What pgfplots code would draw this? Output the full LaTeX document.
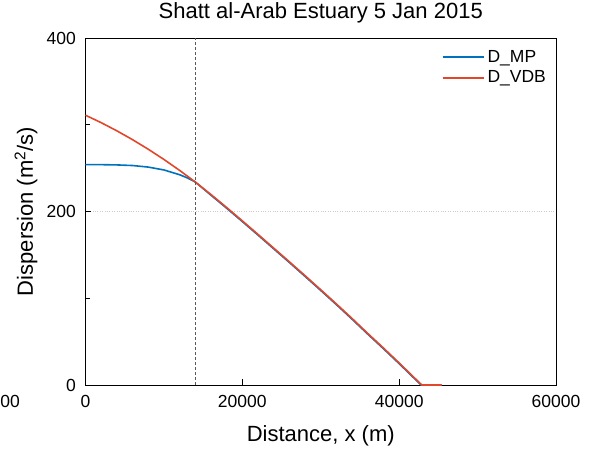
\documentclass[border=0pt]{standalone}
\usepackage{fontspec}
\setmainfont{Liberation Sans}
\usepackage{pgfplots}
\pgfplotsset{compat=1.18}
\definecolor{mpblue}{HTML}{0072BD}
\definecolor{vdbred}{HTML}{E2472B}
\newcommand\lblsize{\fontsize{22}{26}\selectfont}
\newcommand\ticksize{\fontsize{17.5}{21}\selectfont}
\begin{document}
\begin{tikzpicture}
\useasboundingbox (-85.5pt,-66pt) rectangle (504.5pt,385pt);
\begin{axis}[
  at={(0pt,0pt)}, anchor=south west,
  scale only axis, width=470.5pt, height=347pt,
  xmin=0, xmax=60000, ymin=0, ymax=400,
  xtick={0,20000,40000,60000}, xticklabels={0,20000,40000,60000},
  ytick={0,200,400}, yticklabels={0,200,400},
  minor ytick={100,300},
  scaled x ticks=false, scaled y ticks=false,
  tick align=inside, xtick pos=bottom, ytick pos=left,
  major tick length=6pt, minor tick length=5pt,
  tick style={black, line width=0.8pt},
  axis line style={black, line width=0.9pt},
  ymajorgrids, grid style={dotted, black!20, line width=0.8pt},
  tick label style={font=\ticksize},
  xticklabel style={inner sep=0pt, anchor=north, yshift=-10pt},
  yticklabel style={inner sep=0pt, anchor=east, xshift=-9.5pt},
  xlabel={Distance, x (m)},
  ylabel={Dispersion (m\textsuperscript{2}/s)},
  title={Shatt al-Arab Estuary 5 Jan 2015},
  label style={font=\lblsize},
  title style={font=\lblsize, at={(axis description cs:0.5,1.0403)}, anchor=base, inner sep=0pt},
  xlabel style={at={(axis description cs:0.5,-0.1634)}, anchor=base, inner sep=0pt},
  ylabel style={at={(axis description cs:-0.1116,0.5)}, anchor=base, inner sep=0pt},
  legend style={draw=none, fill=none, font=\ticksize, at={(axis description cs:0.757,0.9735)}, anchor=north west, row sep=1pt, inner sep=0pt, nodes={inner sep=3pt}},
  legend cell align=left,
]
\addplot[mpblue, line width=1.6pt, legend image code/.code={\draw[mpblue, line width=1.7pt] (0pt,0pt) -- (41pt,0pt);}] coordinates {
(0,254.0) (2000,254.0) (4000,253.7) (6000,253.0) (8000,251.2) (10000,247.9)
(12000,242.4) (13000,238.7) (14000,234.0) (16000,218.8) (18000,203.8)
(20000,188.4) (22000,172.8) (24000,157.0) (26000,141.2) (28000,125.2)
(30000,109.0) (32000,92.6) (34000,75.8) (36000,58.6) (38000,41.8)
(40000,24.6) (42000,7.0) (42800,0) (45400,0)};
\addlegendentry{D\_MP}
\addplot[vdbred, line width=1.6pt, legend image code/.code={\draw[vdbred, line width=1.6pt] (0pt,0pt) -- (41pt,0pt);}] coordinates {
(0,311.0) (2000,302.4) (4000,293.0) (6000,282.8) (8000,271.8) (10000,260.0)
(12000,247.4) (14000,234.0) (16000,219.6) (18000,204.6) (20000,189.2)
(22000,173.6) (24000,157.8) (26000,142.0) (28000,126.0) (30000,109.8)
(32000,93.4) (34000,76.6) (36000,59.4) (38000,42.6) (40000,25.4)
(42000,7.8) (42900,0) (45400,0)};
\addlegendentry{D\_VDB}
\addplot[black!65, dash pattern=on 3pt off 2pt, line width=0.8pt, forget plot] coordinates {(14000,0) (14000,400)};
\end{axis}
\node[anchor=base east, inner sep=0pt, font=\ticksize] at (-65.5pt,-22.7pt) {00};
\end{tikzpicture}
\end{document}
